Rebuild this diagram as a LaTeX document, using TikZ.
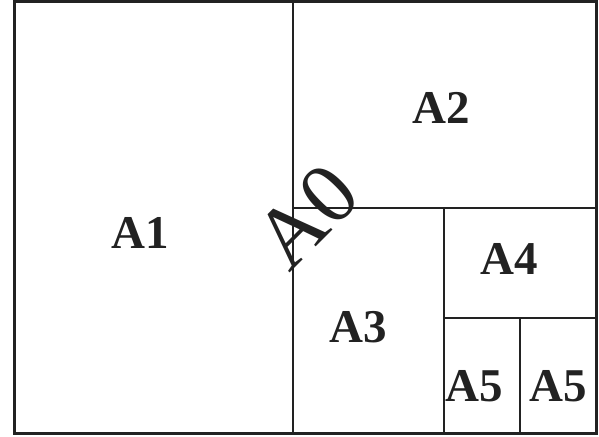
\documentclass[tikz,border=0pt]{standalone}
\usepackage{fontspec}
\setmainfont{Liberation Serif}
\usepackage{xcolor}
\usepackage{tikz}
\definecolor{SheetEdge}{HTML}{222222}
\tikzset{
  sheetlabel/.style={font=\fontsize{47}{47}\selectfont\bfseries, text=SheetEdge, inner sep=0pt},
}

\begin{document}
\begin{tikzpicture}[x=1pt, y=-1pt]
      \useasboundingbox (0,0) rectangle (599,436);
      \draw[SheetEdge, line width=3pt] (14,2) rectangle (596,433);
      \draw[SheetEdge, line width=2.5pt] (293,2) -- (293,433);
      \draw[SheetEdge, line width=2.5pt] (293,208) -- (596,208);
      \draw[SheetEdge, line width=2.5pt] (444,208) -- (444,433);
      \draw[SheetEdge, line width=2.5pt] (444,318) -- (596,318);
      \draw[SheetEdge, line width=2.5pt] (520,318) -- (520,433);
      \node[sheetlabel] (a1) at (140,232.5) {A1};
      \node[sheetlabel] (a2) at (441,107.5) {A2};
      \node[sheetlabel] (a3) at (358.5,327.5) {A3};
      \node[sheetlabel] (a4) at (509.5,259) {A4};
      \node[sheetlabel] (a5l) at (474.5,386) {A5};
      \node[sheetlabel] (a5r) at (558,386) {A5};
      \node[font=\fontsize{86}{86}\selectfont, text=SheetEdge, inner sep=0pt, rotate=45] (a0) at (307,216) {A0};
    \end{tikzpicture}
\end{document}
